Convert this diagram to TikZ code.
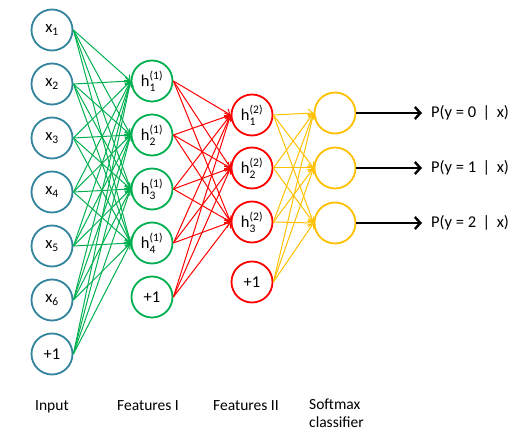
\documentclass[tikz,border=0pt]{standalone}
\usepackage{fontspec}
\usepackage{amsmath}
\setmainfont{Carlito}
\usetikzlibrary{arrows.meta}
\definecolor{inblue}{RGB}{49,132,155}
\definecolor{fgreen}{RGB}{0,176,80}
\definecolor{fred}{RGB}{255,0,0}
\definecolor{fyellow}{RGB}{255,192,0}
\tikzset{
  neuron/.style={circle,line width=1.8pt,minimum size=41pt,inner sep=0pt,font=\fontsize{16.5}{18}\selectfont},
  inneuron/.style={neuron,draw=inblue},
  gneuron/.style={neuron,draw=fgreen},
  rneuron/.style={neuron,draw=fred},
  yneuron/.style={neuron,draw=fyellow},
  conn/.style={line width=1pt,-{Straight Barb[length=4.5pt,width=8pt]}},
  outarrow/.style={line width=2.4pt,-{Straight Barb[length=5.5pt,width=12pt]}},
  lbl/.style={font=\fontsize{15.5}{18}\selectfont,inner sep=0pt},
  plbl/.style={font=\fontsize{16.5}{18}\selectfont,anchor=west,inner xsep=9pt,inner ysep=0pt}
}
\newcommand{\hh}[2]{$\text{h}^{\text{(#1)}}_{\text{#2}}$}
\newcommand{\xx}[1]{$\text{x}_{\text{#1}}$}
\begin{document}
\begin{tikzpicture}[x=1pt,y=-1pt]
\useasboundingbox (0,0) rectangle (529,446);
% input
\foreach \i/\y in {1/30,2/84,3/138,4/192,5/246,6/300}{
  \node[inneuron] (i\i) at (52,\y) {\xx{\i}};
}
\node[inneuron] (i7) at (52,354) {+1};
% features I
\foreach \i/\y in {1/81,2/135,3/189,4/243}{
  \node[gneuron] (f\i) at (152,\y) {\hh{1}{\i}};
}
\node[gneuron] (f5) at (152,297) {+1};
% features II
\foreach \i/\y in {1/115,2/168,3/222}{
  \node[rneuron] (s\i) at (252,\y) {\hh{2}{\i}};
}
\node[rneuron] (s4) at (252,282) {+1};
% softmax
\foreach \i/\y in {1/113,2/168,3/223}{
  \node[yneuron] (o\i) at (335,\y) {};
}
% connections
\foreach \a in {1,...,7}{\foreach \b in {1,...,4}{
  \draw[conn,fgreen] (i\a.east) -- (f\b.west);}}
\foreach \a in {1,...,5}{\foreach \b in {1,...,3}{
  \draw[conn,fred] (f\a.east) -- (s\b.west);}}
\foreach \a in {1,...,4}{\foreach \b in {1,...,3}{
  \draw[conn,fyellow] (s\a.east) -- (o\b.west);}}
% outputs
\node[plbl] (p1) at (422,113) {P(y = 0 \,|\, x)};
\node[plbl] (p2) at (422,168) {P(y = 1 \,|\, x)};
\node[plbl] (p3) at (422,223) {P(y = 2 \,|\, x)};
\foreach \i in {1,2,3}{\draw[outarrow] (o\i.east) -- (p\i.west);}
% labels
\node[lbl,anchor=base west] (l1) at (35,410) {Input};
\node[lbl,anchor=base west] (l2) at (117,410) {Features I};
\node[lbl,anchor=base west] (l3) at (213,410) {Features II};
\node[lbl,anchor=north west,align=left] (l4) at (309,399) {Softmax\\classifier};
\end{tikzpicture}
\end{document}
